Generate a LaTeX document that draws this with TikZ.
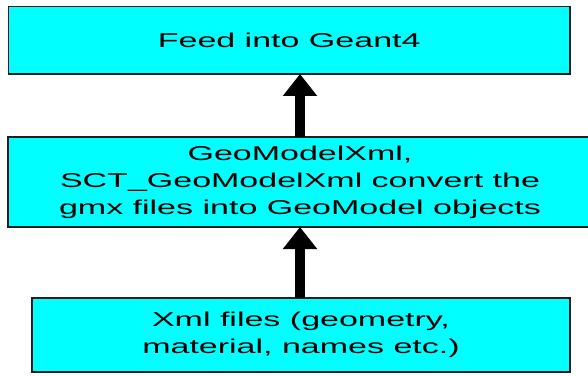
\documentclass[tikz,border=0pt]{standalone}
\usepackage{fontspec}
\setmainfont{Liberation Sans}[FakeStretch=1.7]
\usetikzlibrary{arrows.meta}
\definecolor{boxfill}{HTML}{00FFFF}
\definecolor{boxline}{HTML}{1E1E1E}
\begin{document}
\begin{tikzpicture}[x=0.75pt,y=-0.75pt,
  flowbox/.style={draw=boxline,fill=boxfill,line width=1.1pt,inner sep=0pt,outer sep=0pt,
    align=center,font=\fontsize{15pt}{20.25pt}\selectfont},
  bigarrow/.style={line width=7.5pt,-{Triangle[length=16.5pt,width=24.75pt]}}]
\useasboundingbox (0,0) rectangle (588,375);
\node[flowbox,minimum width=421.3pt,minimum height=50.6pt] (top) at (289.2,40.25) {Feed into Geant4};
\node[flowbox,minimum width=438pt,minimum height=67.5pt] (mid) at (300,182) {GeoModelXml,\\SCT\_GeoModelXml convert the\\gmx files into GeoModel objects};
\node[flowbox,minimum width=403.5pt,minimum height=55.5pt] (bot) at (301,335) {Xml files (geometry,\\material, names etc.)};
\draw[bigarrow] (mid.north) -- (mid.north |- top.south);
\draw[bigarrow] (mid.south |- bot.north) -- (mid.south);
\end{tikzpicture}
\end{document}
